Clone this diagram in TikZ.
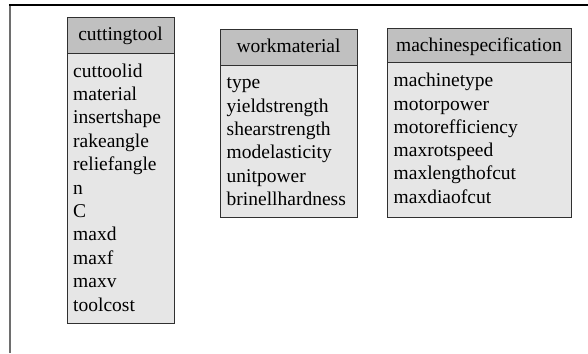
\documentclass[tikz,border=0pt]{standalone}
\usepackage{fontspec}
\setmainfont{Liberation Serif}
\definecolor{hdrgray}{HTML}{C0C0C0}
\definecolor{bodygray}{HTML}{E6E6E6}
\definecolor{edgegray}{HTML}{303030}
\definecolor{framegray}{HTML}{6E6E6E}
\newcommand{\fsz}{\fontsize{19.5}{23.4}\selectfont}
\tikzset{
  topline/.style={draw=black, line width=1.3pt},
  leftline/.style={draw=framegray, line width=2pt},
  hdr/.style={draw=edgegray, fill=hdrgray, line width=0.9pt, inner sep=0pt, anchor=north west, rectangle},
  bdy/.style={draw=edgegray, fill=bodygray, line width=0.9pt, inner sep=0pt, anchor=north west, rectangle},
  ttl/.style={anchor=base, inner sep=0pt, font=\fsz},
  fld/.style={anchor=base west, inner sep=0pt, font=\fsz},
}
\begin{document}
\begin{tikzpicture}[x=1pt, y=-1pt]
\useasboundingbox (0,0) rectangle (588,353);
% frame
\coordinate (fbl) at (9.8,353);
\coordinate (ftl) at (9.8,5);
\coordinate (ftr) at (588,5);
\draw[leftline] (fbl) -- (ftl);
\draw[topline] (8.8,5) -- (ftr);
% cuttingtool
\node[bdy, minimum width=107pt, minimum height=270pt] (ctb) at (67,53) {};
\node[hdr, minimum width=107pt, minimum height=36pt] (cth) at (67,17) {};
\node[ttl] (ctt) at (120.5,40.7) {cuttingtool};
\foreach \t [count=\i from 0] in {cuttoolid,material,insertshape,rakeangle,reliefangle,n,C,maxd,maxf,maxv,toolcost}
  \node[fld] (ct\i) at (73,77+23.4*\i) {\t};
% workmaterial
\node[bdy, minimum width=137pt, minimum height=152pt] (wmb) at (220,65) {};
\node[hdr, minimum width=137pt, minimum height=36pt] (wmh) at (220,29) {};
\node[ttl] (wmt) at (288.5,52.7) {workmaterial};
\foreach \t [count=\i from 0] in {type,yieldstrength,shearstrength,modelasticity,unitpower,brinellhardness}
  \node[fld] (wm\i) at (226.5,88.7+23.4*\i) {\t};
% machinespecification
\node[bdy, minimum width=184pt, minimum height=155pt] (msb) at (387,62) {};
\node[hdr, minimum width=184pt, minimum height=34pt] (msh) at (387,28) {};
\node[ttl] (mst) at (479,52) {machinespecification};
\foreach \t [count=\i from 0] in {machinetype,motorpower,motorefficiency,maxrotspeed,maxlengthofcut,maxdiaofcut}
  \node[fld] (ms\i) at (393.5,86.7+23.3*\i) {\t};
\end{tikzpicture}
\end{document}
